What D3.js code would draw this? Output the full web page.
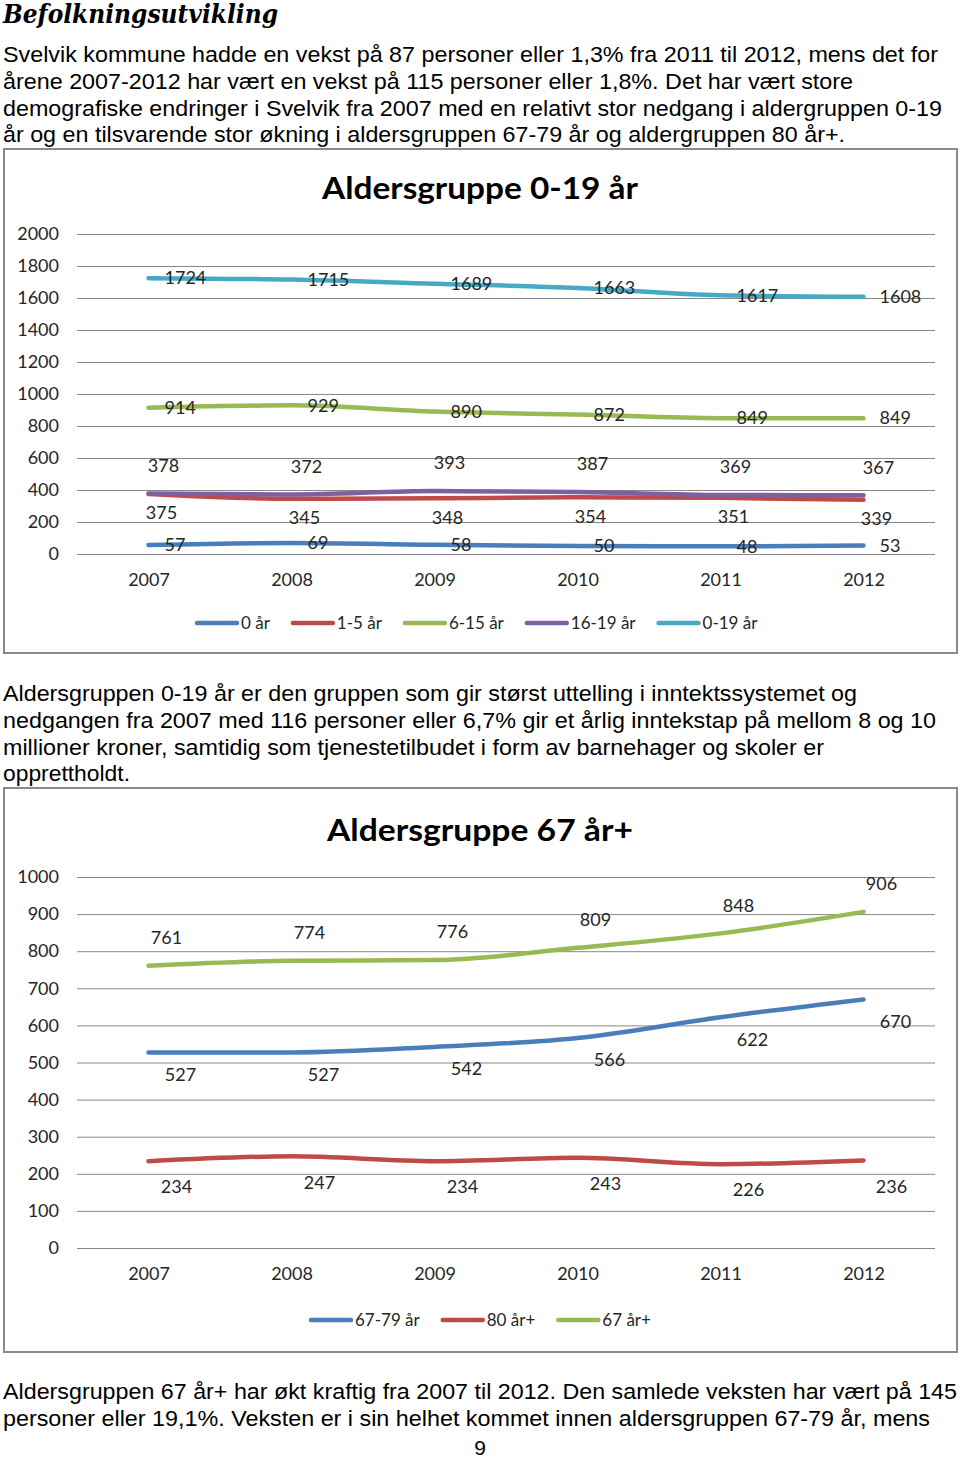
<!DOCTYPE html>
<html><head><meta charset="utf-8">
<script src="https://cdn.jsdelivr.net/npm/d3@7"></script>
<style>body{margin:0;background:#fff}svg{display:block}</style>
</head><body>
<svg id="page" width="960" height="1460"></svg>
<script>
// ---------- DATA ----------
const years = ["2007", "2008", "2009", "2010", "2011", "2012"];

const ticks1 = [0, 200, 400, 600, 800, 1000, 1200, 1400, 1600, 1800, 2000];
const age0 = [57, 69, 58, 50, 48, 53];
const age1to5 = [375, 345, 348, 354, 351, 339];
const age6to15 = [914, 929, 890, 872, 849, 849];
const age16to19 = [378, 372, 393, 387, 369, 367];
const age0to19 = [1724, 1715, 1689, 1663, 1617, 1608];
const names1 = ["0 år", "1-5 år", "6-15 år", "16-19 år", "0-19 år"];

const ticks2 = [0, 100, 200, 300, 400, 500, 600, 700, 800, 900, 1000];
const age67to79 = [527, 527, 542, 566, 622, 670];
const age80plus = [234, 247, 234, 243, 226, 236];
const age67plus = [761, 774, 776, 809, 848, 906];
const names2 = ["67-79 år", "80 år+", "67 år+"];

const heading = "Befolkningsutvikling";
const para1 = [
  "Svelvik kommune hadde en vekst på 87 personer eller 1,3% fra 2011 til 2012, mens det for",
  "årene 2007-2012 har vært en vekst på 115 personer eller 1,8%. Det har vært store",
  "demografiske endringer i Svelvik fra 2007 med en relativt stor nedgang i aldergruppen 0-19",
  "år og en tilsvarende stor økning i aldersgruppen 67-79 år og aldergruppen 80 år+."
];
const para2 = [
  "Aldersgruppen 0-19 år er den gruppen som gir størst uttelling i inntektssystemet og",
  "nedgangen fra 2007 med 116 personer eller 6,7% gir et årlig inntekstap på mellom 8 og 10",
  "millioner kroner, samtidig som tjenestetilbudet i form av barnehager og skoler er",
  "opprettholdt."
];
const para3 = [
  "Aldersgruppen 67 år+ har økt kraftig fra 2007 til 2012. Den samlede veksten har vært på 145",
  "personer eller 19,1%. Veksten er i sin helhet kommet innen aldersgruppen 67-79 år, mens"
];
const pageNo = "9";

// ---------- STYLE / LAYOUT ----------
const svg = d3.select("#page");
const bodyFont = "'Liberation Sans', Arial, sans-serif";
const chartFont = "Lato, 'Open Sans', sans-serif";

svg.append("text").attr("x", 3).attr("y", 23)
  .attr("font-family", "'DejaVu Serif', serif").attr("font-weight", "bold").attr("font-style", "italic")
  .attr("font-size", 26).attr("textLength", 275).attr("lengthAdjust", "spacingAndGlyphs")
  .attr("fill", "#000").text(heading);

function paragraph(lines, y0, widths) {
  lines.forEach((t, i) => {
    svg.append("text").attr("x", 3).attr("y", y0 + i * 26.8)
      .attr("font-family", bodyFont).attr("font-size", 22)
      .attr("textLength", widths[i]).attr("lengthAdjust", "spacingAndGlyphs")
      .attr("fill", "#000").text(t);
  });
}
paragraph(para1, 62, [935, 850, 939, 842]);
paragraph(para2, 701, [854, 933, 821, 127]);
paragraph(para3, 1399, [954, 927]);
svg.append("text").attr("x", 480).attr("y", 1455).attr("text-anchor", "middle")
  .attr("font-family", bodyFont).attr("font-size", 21).text(pageNo);

function drawChart(cfg) {
  const g = svg.append("g");
  g.append("rect").attr("x", cfg.box[0]).attr("y", cfg.box[1])
    .attr("width", cfg.box[2] - cfg.box[0]).attr("height", cfg.box[3] - cfg.box[1])
    .attr("fill", "#fff").attr("stroke", "#8a8a8a").attr("stroke-width", 2);

  g.append("text").attr("x", 480).attr("y", cfg.titleY)
    .attr("text-anchor", "middle").attr("font-family", chartFont).attr("font-weight", "bold")
    .attr("font-size", 31).attr("textLength", cfg.titleW).attr("lengthAdjust", "spacingAndGlyphs")
    .attr("fill", "#000").text(cfg.title);

  const x = d3.scalePoint().domain(years).range([77, 935]).padding(0.5);
  const y = d3.scaleLinear().domain(cfg.domain).range(cfg.yRange);

  // gridlines
  const yAxis = d3.axisLeft(y).tickValues(cfg.ticks).tickSize(-(935 - 77)).tickPadding(18).tickFormat(d3.format("d"));
  const ag = g.append("g").attr("transform", "translate(77,0)").call(yAxis);
  ag.select(".domain").remove();
  ag.selectAll(".tick line").attr("stroke", "#878787").attr("stroke-width", 1);
  ag.selectAll(".tick text").attr("font-family", chartFont).attr("font-size", 18).attr("fill", "#262626");

  const xAxis = d3.axisBottom(x).tickSize(0).tickPadding(0);
  const xg = g.append("g").attr("transform", `translate(0,${cfg.yRange[0] + 26})`).call(xAxis);
  xg.select(".domain").remove();
  xg.selectAll(".tick text").attr("font-family", chartFont).attr("font-size", 18).attr("fill", "#262626")
    .attr("dy", "0.35em");

  const line = d3.line().x((d, i) => x(years[i])).y(d => y(d)).curve(d3.curveMonotoneX);
  cfg.series.forEach(s => {
    g.append("path").datum(s.values).attr("d", line)
      .attr("fill", "none").attr("stroke", s.color).attr("stroke-width", 4.5)
      .attr("stroke-linecap", "round").attr("stroke-linejoin", "round");
  });
  cfg.series.forEach(s => {
    g.selectAll(null).data(s.values).enter().append("text")
      .attr("x", (d, i) => x(years[i]) + s.dx)
      .attr("y", d => y(d) + s.dy)
      .attr("dy", "0.35em")
      .attr("text-anchor", s.anchor)
      .attr("font-family", chartFont).attr("font-size", 18).attr("fill", "#262626")
      .text(d => d);
  });

  // legend
  const lg = g.append("g");
  let cx = cfg.legendX;
  cfg.series.forEach(s => {
    lg.append("line").attr("x1", cx).attr("x2", cx + 40).attr("y1", cfg.legendY).attr("y2", cfg.legendY)
      .attr("stroke", s.color).attr("stroke-width", 4.5).attr("stroke-linecap", "round");
    const t = lg.append("text").attr("x", cx + 44).attr("y", cfg.legendY).attr("dy", "0.35em")
      .attr("font-family", chartFont).attr("font-size", 17).attr("fill", "#262626").text(s.name);
    cx += 44 + t.node().getComputedTextLength() + 23;
  });
}

drawChart({
  box: [4, 149, 957, 653], title: "Aldersgruppe 0-19 år", titleY: 199, titleW: 316,
  domain: [0, 2000], yRange: [554, 234], ticks: ticks1,
  legendX: 197, legendY: 623,
  series: [
    { name: names1[0], values: age0, color: "#4a7ebb", dx: 16, dy: 0, anchor: "start" },
    { name: names1[1], values: age1to5, color: "#be4b48", dx: 13, dy: 19, anchor: "middle" },
    { name: names1[2], values: age6to15, color: "#98b954", dx: 16, dy: 0, anchor: "start" },
    { name: names1[3], values: age16to19, color: "#7d60a0", dx: 15, dy: -28, anchor: "middle" },
    { name: names1[4], values: age0to19, color: "#46aac5", dx: 16, dy: 0, anchor: "start" }
  ]
});

drawChart({
  box: [4, 788, 957, 1352], title: "Aldersgruppe 67 år+", titleY: 841, titleW: 306,
  domain: [0, 1000], yRange: [1248, 877], ticks: ticks2,
  legendX: 311, legendY: 1320,
  series: [
    { name: names2[0], values: age67to79, color: "#4a7ebb", dx: 32, dy: 22, anchor: "middle" },
    { name: names2[1], values: age80plus, color: "#be4b48", dx: 28, dy: 26, anchor: "middle" },
    { name: names2[2], values: age67plus, color: "#98b954", dx: 18, dy: -28, anchor: "middle" }
  ]
});
</script>
</body></html>
